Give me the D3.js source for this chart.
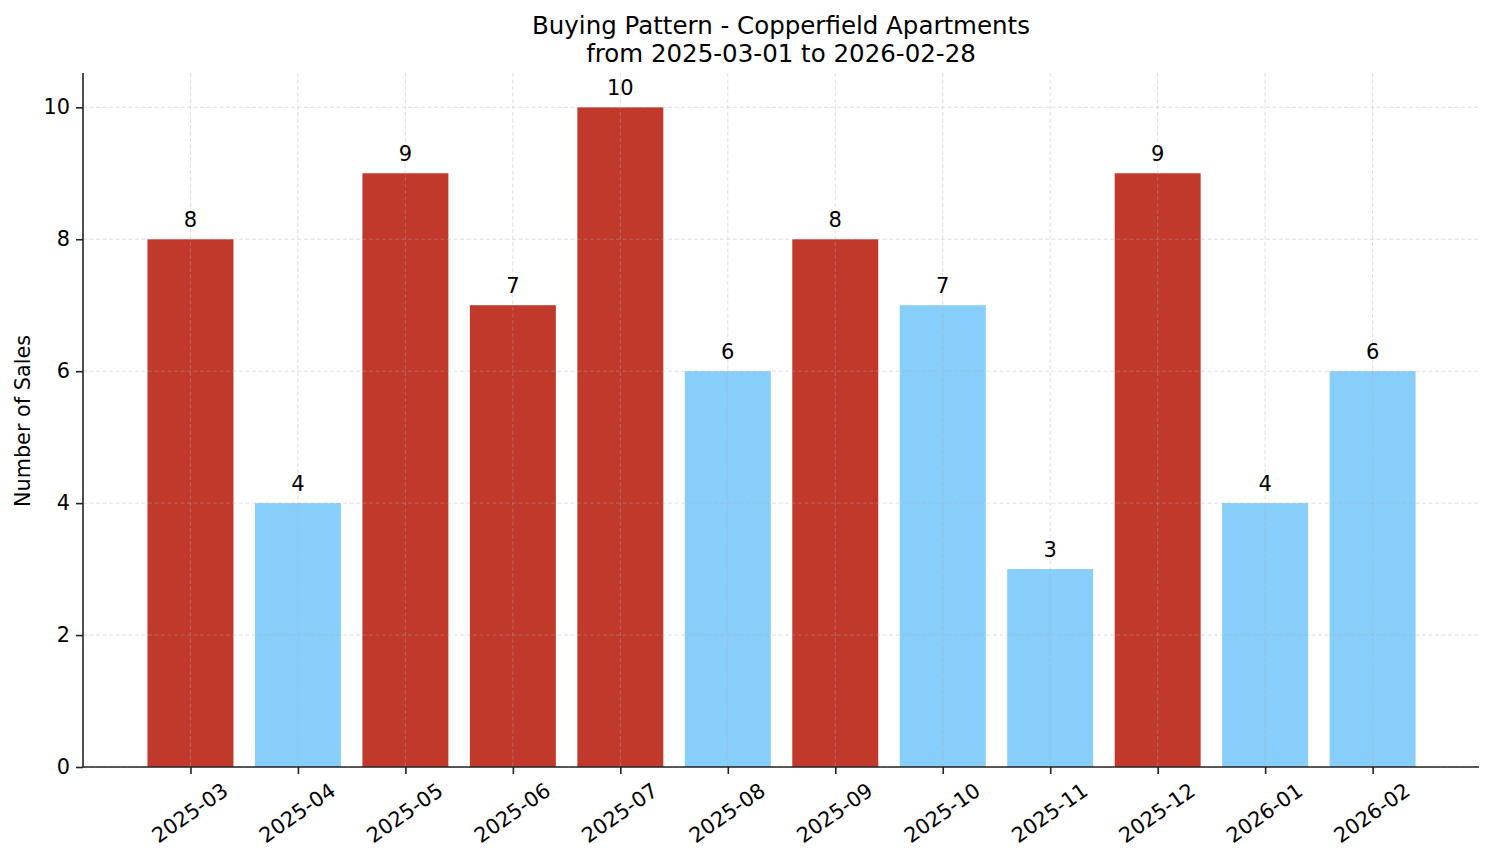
<!DOCTYPE html>
<html>
<head>
<meta charset="utf-8">
<script src="https://cdn.jsdelivr.net/npm/d3@7"></script>
<style>
  html, body { margin: 0; padding: 0; background: #fff; }
  svg { display: block; font-family: "DejaVu Sans", sans-serif; }
</style>
</head>
<body>
<svg id="chart" width="1494" height="863"></svg>
<script>
const months = ["2025-03","2025-04","2025-05","2025-06","2025-07","2025-08","2025-09","2025-10","2025-11","2025-12","2026-01","2026-02"];
const sales = [8, 4, 9, 7, 10, 6, 8, 7, 3, 9, 4, 6];
const highlight = [true, false, true, true, true, false, true, false, false, true, false, false];
const yTicks = [0, 2, 4, 6, 8, 10];
const titleLines = ["Buying Pattern - Copperfield Apartments", "from 2025-03-01 to 2026-02-28"];
const yLabel = "Number of Sales";

const W = 1494, H = 863;
const m = { left: 83, right: 1479, top: 73, bottom: 767 };
const svg = d3.select("#chart");

const x = d3.scaleLinear().domain([-1.0, months.length - 0.01]).range([m.left, m.right]);
const y = d3.scaleLinear().domain([0, 10.52]).range([m.bottom, m.top]);
const barW = x(0.8) - x(0);

// bars
svg.append("g").selectAll("rect").data(sales).join("rect")
  .attr("x", (d, i) => x(i) - barW / 2)
  .attr("y", d => y(d))
  .attr("width", barW)
  .attr("height", d => y(0) - y(d))
  .attr("fill", (d, i) => highlight[i] ? "#c0392b" : "#87cefa");

// grid (drawn above bars, faint)
const grid = svg.append("g").attr("stroke", "#b0b0b0").attr("stroke-opacity", 0.5)
  .attr("stroke-width", 0.8).attr("stroke-dasharray", "4,2.5");
grid.selectAll("line.h").data(yTicks).join("line").attr("class", "h")
  .attr("x1", m.left).attr("x2", m.right)
  .attr("y1", d => y(d)).attr("y2", d => y(d));
grid.selectAll("line.v").data(months.map((d, i) => i)).join("line").attr("class", "v")
  .attr("x1", d => x(d)).attr("x2", d => x(d))
  .attr("y1", m.top).attr("y2", m.bottom);

// bar value labels
svg.append("g").selectAll("text").data(sales).join("text")
  .attr("x", (d, i) => x(i))
  .attr("y", d => y(d) - 12)
  .attr("text-anchor", "middle")
  .attr("font-size", 21)
  .attr("fill", "#000")
  .text(d => d);

// y axis
const yAxis = d3.axisLeft(y).tickValues(yTicks).tickSize(7).tickPadding(6).tickFormat(d3.format("d"));
const gy = svg.append("g").attr("transform", `translate(${m.left},0)`).call(yAxis);
gy.select(".domain").attr("stroke", "#222").attr("stroke-width", 1.6).attr("d", `M0,${m.bottom}V${m.top}`);
gy.selectAll(".tick line").attr("stroke", "#222").attr("stroke-width", 1.6);
gy.selectAll(".tick text").attr("font-size", 20.8).attr("fill", "#000").attr("font-family", "DejaVu Sans");

// x axis
const xAxis = d3.axisBottom(x).tickValues(months.map((d, i) => i)).tickSize(7).tickFormat(i => months[i]);
const gx = svg.append("g").attr("transform", `translate(0,${m.bottom})`).call(xAxis);
gx.select(".domain").attr("stroke", "#222").attr("stroke-width", 1.6).attr("d", `M${m.left},0H${m.right}`);
gx.selectAll(".tick line").attr("stroke", "#222").attr("stroke-width", 1.6);
gx.selectAll(".tick text")
  .attr("font-size", 20.8).attr("fill", "#000").attr("font-family", "DejaVu Sans")
  .attr("text-anchor", "middle").attr("dominant-baseline", "central")
  .attr("dy", null).attr("x", -1).attr("y", 46)
  .attr("transform", "rotate(-35,-1,46)");

// y label
svg.append("text")
  .attr("transform", `translate(23,${(m.top + m.bottom) / 2 + 1}) rotate(-90)`)
  .attr("text-anchor", "middle").attr("dominant-baseline", "central")
  .attr("font-size", 20.8).attr("fill", "#000")
  .text(yLabel);

// title
svg.append("g").selectAll("text").data(titleLines).join("text")
  .attr("x", (m.left + m.right) / 2)
  .attr("y", (d, i) => 34 + i * 27.5)
  .attr("text-anchor", "middle")
  .attr("font-size", 24.5).attr("fill", "#000")
  .text(d => d);
</script>
</body>
</html>
